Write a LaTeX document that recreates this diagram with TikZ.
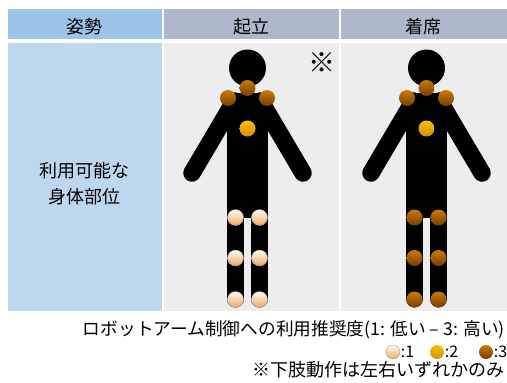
\documentclass[tikz,border=0pt]{standalone}
\usepackage{fontspec}
\newfontfamily\jp{Noto Sans CJK JP}
\usepackage{tikz}
\usetikzlibrary{positioning}
\definecolor{headblue}{RGB}{157,195,230}
\definecolor{headgray}{RGB}{173,185,202}
\definecolor{bodyblue}{RGB}{189,215,238}
\definecolor{bodygray}{RGB}{237,237,237}
\definecolor{onelight}{RGB}{255,252,245}
\definecolor{onedark}{RGB}{238,168,95}
\definecolor{twolight}{RGB}{252,192,0}
\definecolor{twodark}{RGB}{212,142,0}
\definecolor{threelight}{RGB}{204,122,0}
\definecolor{threedark}{RGB}{118,62,0}
\newcommand{\txtsize}{\fontsize{18}{26}\selectfont}
\newcommand{\titlesize}{\fontsize{17.7}{22}\selectfont}
\newcommand{\keysize}{\fontsize{16}{20}\selectfont}
\tikzset{
    cell/.style={anchor=north west, inner sep=0pt},
    txt/.style={inner sep=0pt, font=\jp\txtsize},
    keytxt/.style={inner sep=0pt, font=\jp\keysize},
    limb/.style={black, line width=17.5pt, line cap=round},
    joint/.style={circle, inner sep=0pt, minimum size=16pt, shading angle=45},
    rate-1/.style={joint, top color=onelight, bottom color=onedark, draw=gray!80, line width=0.4pt},
    rate-2/.style={joint, top color=twolight, bottom color=twodark},
    rate-3/.style={joint, top color=threelight, bottom color=threedark},
    key/.style={minimum size=14pt}
}
\begin{document}
\begin{tikzpicture}[x=1pt, y=-1pt]
      \useasboundingbox (0,0) rectangle (507,383);

      \newcommand\person[5]{
        \begin{scope}[shift={(#2,0)}]
          \fill (0,68) circle[radius=18.5];
          \fill (-20.5,93) rectangle (20.5,218);
          \draw[limb] (-13,101) -- (-55.5,173);
          \draw[limb] (13,101) -- (55.5,173);
          \draw[limb, line width=17pt] (-12,210) -- (-12,299);
          \draw[limb, line width=17pt] (12,210) -- (12,299);
          \path
            (0,88) node[#3] (#1-neck) {}
            (-19.5,98) node[#3] (#1-lsh) {}
            (19.5,98) node[#3] (#1-rsh) {}
            (0,128.5) node[#4] (#1-chest) {}
            (-12,217.5) node[#5] (#1-lhip) {}
            (12,217.5) node[#5] (#1-rhip) {}
            (-12,258) node[#5] (#1-lknee) {}
            (12,258) node[#5] (#1-rknee) {}
            (-12,299.5) node[#5] (#1-lankle) {}
            (12,299.5) node[#5] (#1-rankle) {};
        \end{scope}
      }

      \path
          (8,9) node[cell, fill=headblue, minimum width=153.5, minimum height=29.5] (hdr-pose) {}
          (163.5,9) node[cell, fill=headgray, minimum width=175, minimum height=29.5] (hdr-stand) {}
          (340.5,9) node[cell, fill=headgray, minimum width=166.5, minimum height=29.5] (hdr-sit) {}
          (8,42.5) node[cell, fill=bodyblue, minimum width=153.5, minimum height=268.5] (use-label) {}
          (163.5,42.5) node[cell, fill=bodygray, minimum width=175, minimum height=268.5] (stand-cell) {}
          (340.5,42.5) node[cell, fill=bodygray, minimum width=166.5, minimum height=268.5] (sit-cell) {};

      \node[txt] (hdr-pose-text) at ([yshift=-2.5pt]hdr-pose.center) {姿勢};
      \node[txt] (hdr-stand-text) at ([yshift=-2.5pt]hdr-stand.center) {起立};
      \node[txt] (hdr-sit-text) at ([yshift=-2.5pt]hdr-sit.center) {着席};
      \node[txt, align=center] (use-text) at (84.75,183.5) {利用可能な\\身体部位};
      \node[txt, scale=1.5] (stand-note) at (322,63) {※};

      \person{stand}{247.5}{rate-3}{rate-2}{rate-1};
      \person{sit}{426.5}{rate-3}{rate-2}{rate-3};

      \node[txt, font=\jp\titlesize, anchor=east] (rate-title) at (505,329.5) {ロボットアーム制御への利用推奨度(1: 低い – 3: 高い)};
      \path
          (393,352) node[rate-1, key] (key-1) {}
          (437,352) node[rate-2, key] (key-2) {}
          (486,352) node[rate-3, key] (key-3) {};
      \node[keytxt, right=0.5pt of key-1] (key-1-text) {:1};
      \node[keytxt, right=0.5pt of key-2] (key-2-text) {:2};
      \node[keytxt, right=0.5pt of key-3] (key-3-text) {:3};
      \node[txt, anchor=east] (leg-note) at (505,369.5) {※下肢動作は左右いずれかのみ};
    \end{tikzpicture}
\end{document}
